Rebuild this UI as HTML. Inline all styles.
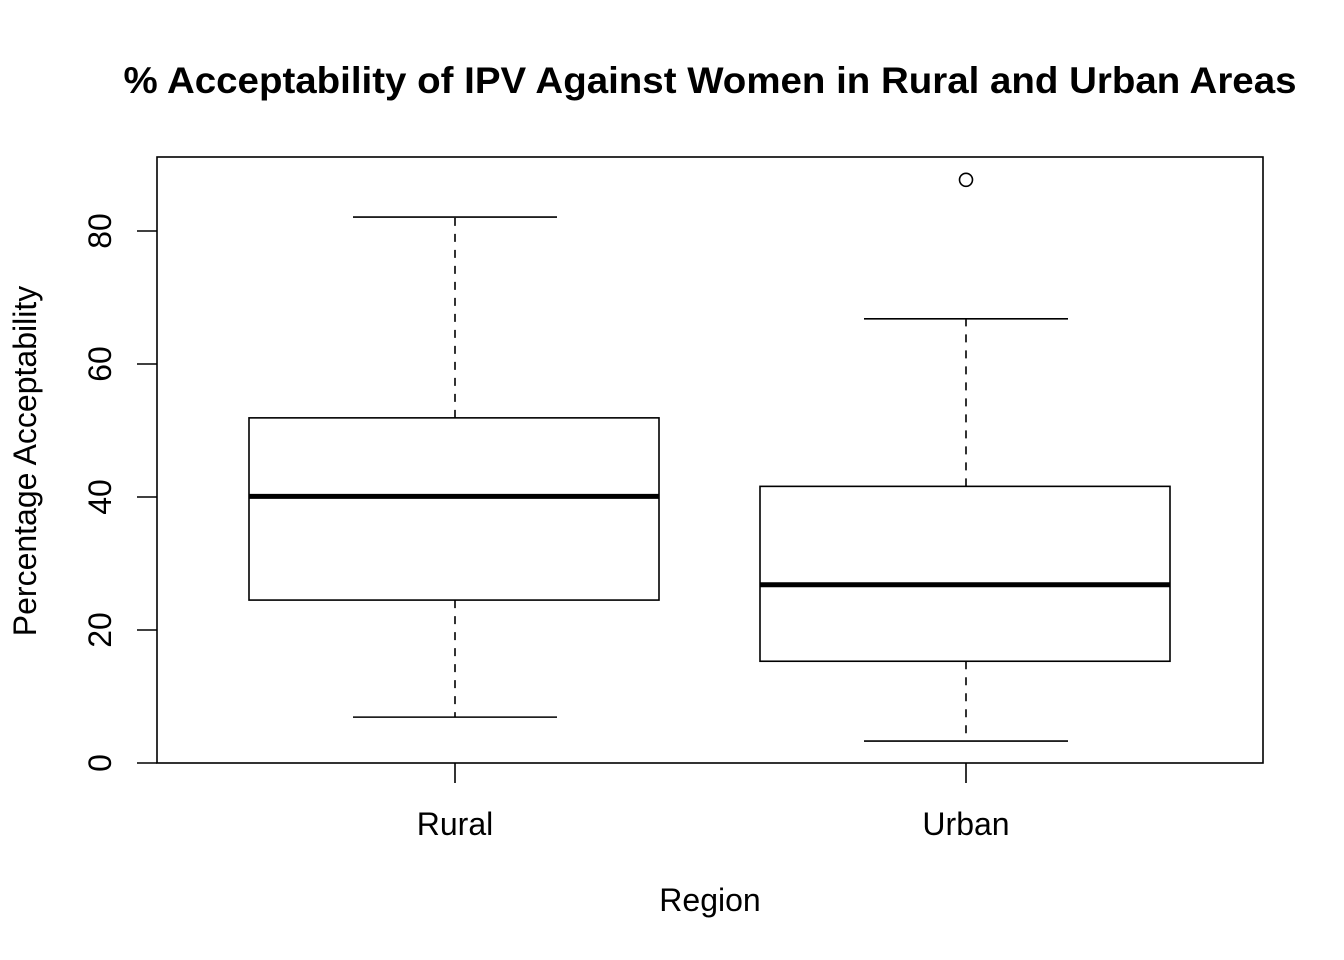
<!DOCTYPE html>
<html><head><meta charset="utf-8"><style>
html,body{margin:0;padding:0;background:#fff;}
svg{display:block;font-family:"Liberation Sans",Arial,sans-serif;}
</style></head><body>
<svg id="chart" width="1344" height="960" xmlns="http://www.w3.org/2000/svg">
<text x="710" y="93" text-anchor="middle" font-size="37" font-weight="bold" textLength="1173" lengthAdjust="spacingAndGlyphs">% Acceptability of IPV Against Women in Rural and Urban Areas</text>
<rect x="157" y="157" width="1106" height="606" fill="none" stroke="#000" stroke-width="1.6"/>
<text x="710" y="911" text-anchor="middle" font-size="32">Region</text>
<text transform="translate(36,461) rotate(-90)" text-anchor="middle" font-size="32">Percentage Acceptability</text>
<g id="marks"></g>
</svg>
<script>
const categories = ["Rural","Urban"];
const mins = [6.9, 3.3];
const q1s = [24.5, 15.3];
const medians = [40.1, 26.8];
const q3s = [51.9, 41.6];
const maxs = [82.1, 66.8];
const outliers = [[], [87.7]];
const yTicks = [0,20,40,60,80];

const NS="http://www.w3.org/2000/svg";
const g=document.getElementById('marks');
const y=v=>763-v*6.65;
const x=i=>455+i*511;
function mk(tag,attrs){const e=document.createElementNS(NS,tag);for(const k in attrs)e.setAttribute(k,attrs[k]);g.appendChild(e);return e;}
yTicks.forEach(t=>{
  const l=mk('line',{x1:137,x2:157,y1:y(t),y2:y(t),stroke:'#000','stroke-width':1.6});
  
  
  const tx=mk('text',{transform:`translate(111,${y(t)}) rotate(-90)`,'text-anchor':'middle','font-size':32});
  tx.textContent=t;
  
  
});
categories.forEach((c,i)=>{
  const cx=x(i);
  const tk=mk('line',{x1:cx,x2:cx,y1:763,y2:783,stroke:'#000','stroke-width':1.6});
  
  
  const lb=mk('text',{x:cx,y:835,'text-anchor':'middle','font-size':32});
  lb.textContent=c;
  
  
  const w1=mk('line',{x1:cx,x2:cx,y1:y(q3s[i]),y2:y(maxs[i]),stroke:'#000','stroke-width':1.6,'stroke-dasharray':'8,8'});
  
  
  const w2=mk('line',{x1:cx,x2:cx,y1:y(q1s[i]),y2:y(mins[i]),stroke:'#000','stroke-width':1.6,'stroke-dasharray':'8,8'});
  
  
  const c1=mk('line',{x1:cx-102,x2:cx+102,y1:y(maxs[i]),y2:y(maxs[i]),stroke:'#000','stroke-width':1.6});
  
  
  const c2=mk('line',{x1:cx-102,x2:cx+102,y1:y(mins[i]),y2:y(mins[i]),stroke:'#000','stroke-width':1.6});
  
  
  const b=mk('rect',{x:cx-206,width:410,y:y(q3s[i]),height:y(q1s[i])-y(q3s[i]),fill:'#fff',stroke:'#000','stroke-width':1.6});
  
  
  const m=mk('line',{x1:cx-206,x2:cx+204,y1:y(medians[i]),y2:y(medians[i]),stroke:'#000','stroke-width':5});
  
  
  outliers[i].forEach(o=>{
    const p=mk('circle',{cx:cx,cy:y(o),r:6.5,fill:'none',stroke:'#000','stroke-width':1.6});
    
    
  });
});
</script>
</body></html>
